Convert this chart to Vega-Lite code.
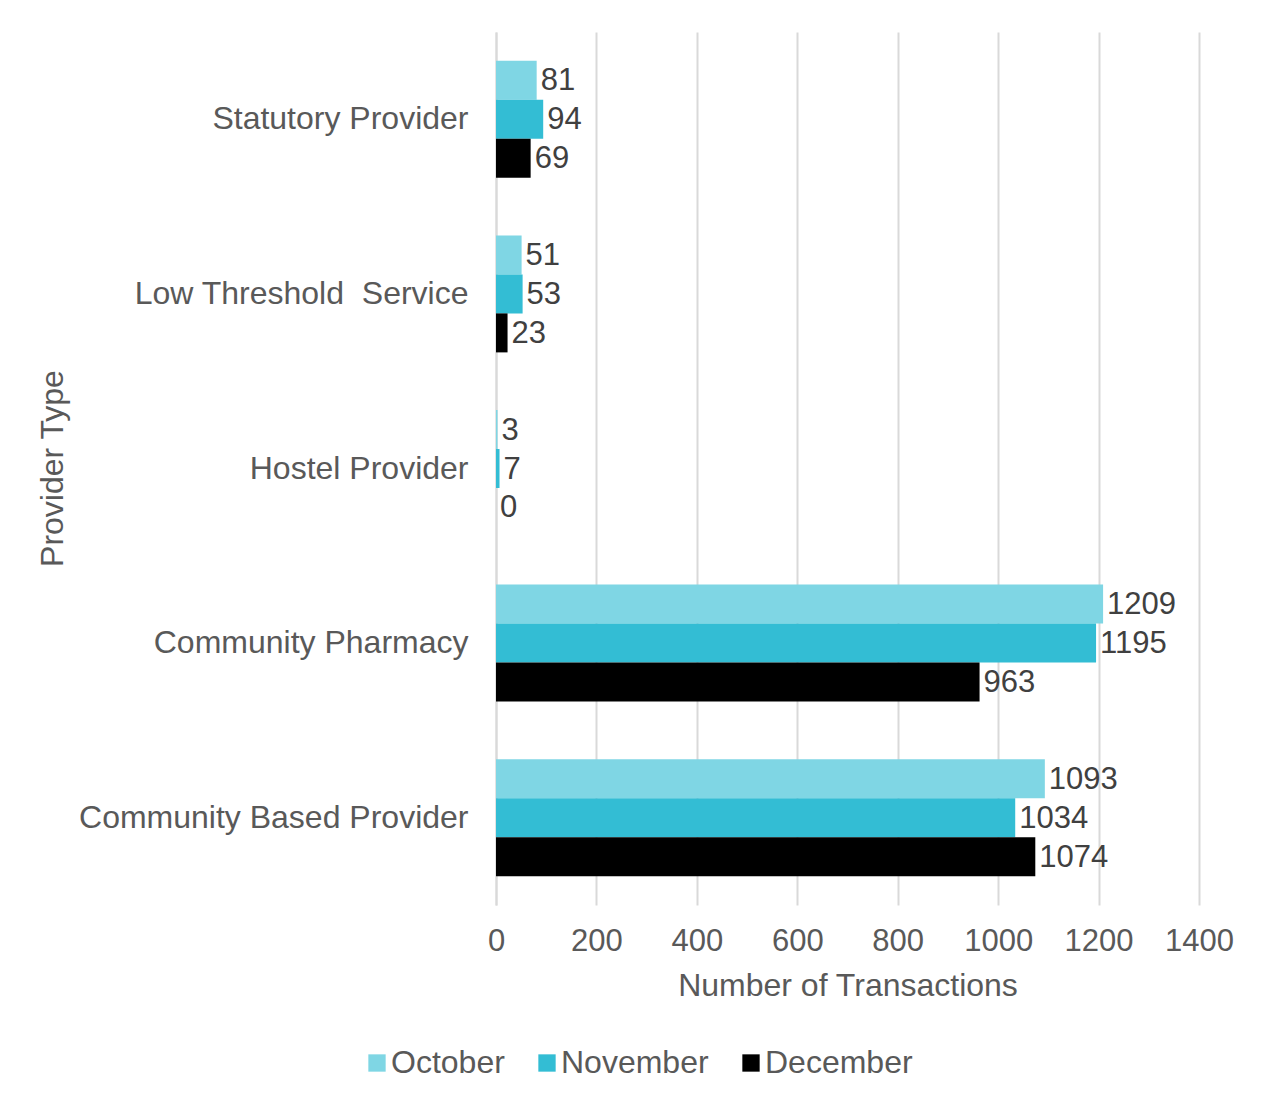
{
  "$schema": "https://vega.github.io/schema/vega-lite/v6.json",
  "width": 703,
  "height": 873,
  "autosize": {"type": "none"},
  "padding": {"left": 496, "top": 32, "right": 64, "bottom": 197},
  "background": "white",
  "config": {
    "font": "Liberation Sans",
    "view": {"stroke": null},
    "axis": {"labelColor": "#595959", "titleColor": "#595959", "titleFontWeight": "normal", "labelFont": "Liberation Sans", "titleFont": "Liberation Sans"},
    "legend": {"labelFont": "Liberation Sans"}
  },
  "data": {
    "values": [
      {"provider": "Statutory Provider", "month": "October", "value": 81},
      {"provider": "Statutory Provider", "month": "November", "value": 94},
      {"provider": "Statutory Provider", "month": "December", "value": 69},
      {"provider": "Low Threshold \u00a0Service", "month": "October", "value": 51},
      {"provider": "Low Threshold \u00a0Service", "month": "November", "value": 53},
      {"provider": "Low Threshold \u00a0Service", "month": "December", "value": 23},
      {"provider": "Hostel Provider", "month": "October", "value": 3},
      {"provider": "Hostel Provider", "month": "November", "value": 7},
      {"provider": "Hostel Provider", "month": "December", "value": 0},
      {"provider": "Community Pharmacy", "month": "October", "value": 1209},
      {"provider": "Community Pharmacy", "month": "November", "value": 1195},
      {"provider": "Community Pharmacy", "month": "December", "value": 963},
      {"provider": "Community Based Provider", "month": "October", "value": 1093},
      {"provider": "Community Based Provider", "month": "November", "value": 1034},
      {"provider": "Community Based Provider", "month": "December", "value": 1074}
    ]
  },
  "encoding": {
    "y": {
      "field": "provider",
      "type": "nominal",
      "sort": ["Statutory Provider", "Low Threshold \u00a0Service", "Hostel Provider", "Community Pharmacy", "Community Based Provider"],
      "scale": {"paddingInner": 0.33, "paddingOuter": 0.165},
      "axis": {
        "title": "Provider Type",
        "titleFontSize": 32,
        "titleX": -444,
        "titleY": 436,
        "titleAngle": 270,
        "titleAlign": "center",
        "titleBaseline": "middle",
        "labelFontSize": 32,
        "labelPadding": 28,
        "labelLimit": 0,
        "ticks": false,
        "domain": true,
        "domainColor": "#d9d9d9",
        "domainWidth": 2,
        "grid": false
      }
    },
    "yOffset": {
      "field": "month",
      "type": "nominal",
      "sort": ["October", "November", "December"],
      "scale": {"paddingInner": 0, "paddingOuter": 0}
    },
    "x": {
      "field": "value",
      "type": "quantitative",
      "scale": {"domain": [0, 1400], "nice": false},
      "axis": {
        "values": [0, 200, 400, 600, 800, 1000, 1200, 1400],
        "format": "d",
        "labelOverlap": false,
        "labelFlush": false,
        "title": "Number of Transactions",
        "titleFontSize": 32,
        "titlePadding": 14,
        "labelFontSize": 31,
        "labelPadding": 21,
        "ticks": false,
        "domain": false,
        "grid": true,
        "gridColor": "#d9d9d9",
        "gridWidth": 2
      }
    }
  },
  "layer": [
    {
      "mark": {"type": "bar", "strokeWidth": 0},
      "encoding": {
        "color": {
          "field": "month",
          "type": "nominal",
          "sort": ["October", "November", "December"],
          "scale": {"domain": ["October", "November", "December"], "range": ["#7fd6e4", "#33bdd4", "#000000"]},
          "legend": {
            "title": null,
            "orient": "none",
            "direction": "horizontal",
            "legendX": -135,
            "legendY": 1015,
            "symbolType": "square",
            "symbolSize": 300,
            "symbolStrokeWidth": 0,
            "labelFontSize": 32,
            "labelColor": "#595959",
            "labelOffset": -2,
            "columnPadding": 26
          }
        }
      }
    },
    {
      "mark": {"type": "text", "align": "left", "baseline": "middle", "dx": 4, "dy": 1, "fontSize": 31, "color": "#404040"},
      "encoding": {
        "text": {"field": "value", "type": "quantitative"}
      }
    }
  ]
}
